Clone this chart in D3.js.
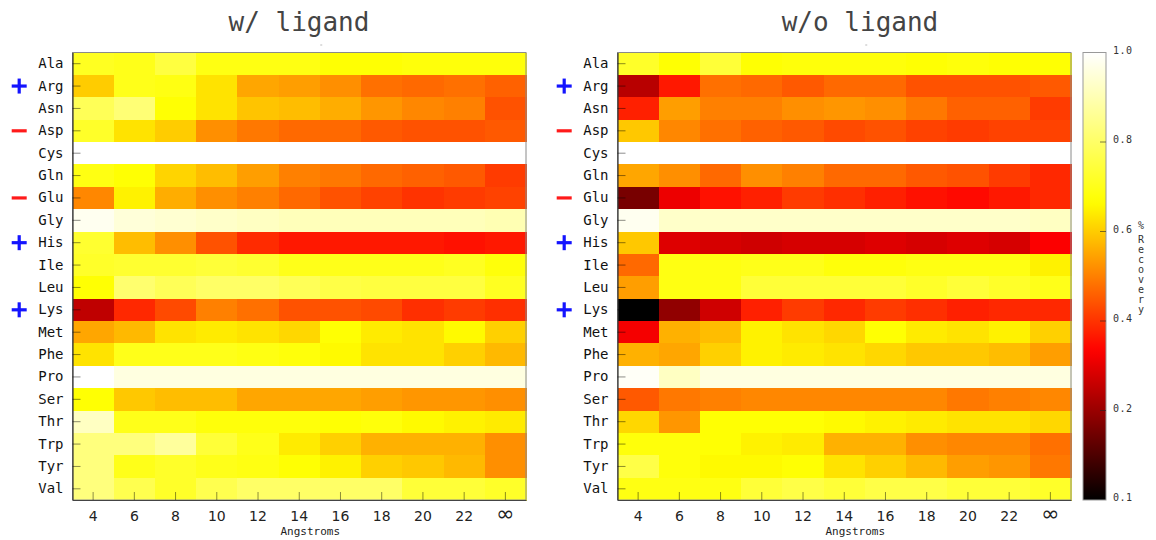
<!DOCTYPE html>
<html>
<head>
<meta charset="utf-8">
<script src="https://cdn.jsdelivr.net/npm/d3@7/dist/d3.min.js"></script>
<style>
  html, body { margin: 0; padding: 0; background: #fff; }
  svg { display: block; }
</style>
</head>
<body>
<svg id="chart" width="1156" height="540"></svg>
<script>
// Residue types (rows) and probe distances in Å (columns)
const residues = ["Ala","Arg","Asn","Asp","Cys","Gln","Glu","Gly","His","Ile",
                  "Leu","Lys","Met","Phe","Pro","Ser","Thr","Trp","Tyr","Val"];
const distances = ["4","6","8","10","12","14","16","18","20","22","∞"];

// Charged residues, marked beside the row labels
const positiveResidues = ["Arg","His","Lys"];
const negativeResidues = ["Asp","Glu"];

// Fraction recovered, with the ligand present
const withLigand = [
  [0.71,0.70,0.75,0.69,0.69,0.69,0.67,0.67,0.68,0.68,0.68],
  [0.60,0.70,0.69,0.63,0.55,0.54,0.52,0.48,0.47,0.48,0.46],
  [0.78,0.82,0.67,0.63,0.59,0.58,0.56,0.53,0.51,0.50,0.44],
  [0.72,0.63,0.60,0.52,0.49,0.47,0.47,0.45,0.44,0.44,0.45],
  [1.00,1.00,1.00,1.00,1.00,1.00,1.00,1.00,1.00,1.00,1.00],
  [0.69,0.67,0.61,0.58,0.54,0.50,0.49,0.47,0.46,0.45,0.41],
  [0.51,0.65,0.56,0.52,0.50,0.47,0.44,0.42,0.40,0.41,0.42],
  [0.98,0.95,0.94,0.93,0.92,0.91,0.91,0.91,0.91,0.91,0.90],
  [0.73,0.58,0.52,0.44,0.39,0.365,0.365,0.365,0.365,0.355,0.365],
  [0.72,0.73,0.73,0.74,0.73,0.70,0.70,0.70,0.70,0.71,0.68],
  [0.67,0.81,0.78,0.80,0.80,0.78,0.76,0.75,0.75,0.75,0.71],
  [0.25,0.385,0.43,0.50,0.48,0.44,0.44,0.43,0.395,0.41,0.395],
  [0.55,0.575,0.63,0.64,0.63,0.615,0.67,0.64,0.63,0.66,0.605],
  [0.63,0.70,0.70,0.70,0.69,0.68,0.66,0.63,0.63,0.605,0.575],
  [1.00,0.96,0.96,0.96,0.96,0.96,0.96,0.96,0.96,0.96,0.96],
  [0.67,0.595,0.58,0.58,0.55,0.55,0.55,0.54,0.53,0.53,0.52],
  [0.92,0.70,0.70,0.68,0.68,0.68,0.67,0.68,0.66,0.65,0.64],
  [0.83,0.83,0.87,0.74,0.70,0.64,0.605,0.565,0.565,0.565,0.52],
  [0.83,0.70,0.72,0.70,0.69,0.67,0.65,0.605,0.595,0.575,0.52],
  [0.83,0.77,0.72,0.77,0.80,0.80,0.80,0.80,0.74,0.74,0.72]
];

// Fraction recovered, without the ligand
const withoutLigand = [
  [0.72,0.67,0.74,0.67,0.68,0.68,0.68,0.67,0.68,0.67,0.67],
  [0.24,0.365,0.48,0.47,0.45,0.47,0.47,0.44,0.44,0.44,0.45],
  [0.375,0.54,0.50,0.50,0.52,0.53,0.52,0.49,0.46,0.46,0.41],
  [0.595,0.51,0.48,0.46,0.45,0.43,0.44,0.42,0.41,0.42,0.42],
  [1.00,1.00,1.00,1.00,1.00,1.00,1.00,1.00,1.00,1.00,1.00],
  [0.55,0.52,0.47,0.52,0.50,0.47,0.47,0.45,0.44,0.41,0.385],
  [0.157,0.31,0.355,0.375,0.41,0.395,0.375,0.355,0.345,0.365,0.385],
  [0.98,0.93,0.93,0.93,0.93,0.93,0.93,0.93,0.93,0.93,0.92],
  [0.595,0.29,0.28,0.27,0.28,0.28,0.29,0.28,0.29,0.28,0.33],
  [0.47,0.69,0.69,0.70,0.70,0.68,0.68,0.69,0.69,0.69,0.65],
  [0.54,0.69,0.69,0.74,0.74,0.74,0.74,0.72,0.74,0.72,0.70],
  [0.0,0.19,0.27,0.375,0.41,0.385,0.41,0.395,0.375,0.385,0.385],
  [0.32,0.565,0.58,0.65,0.63,0.615,0.67,0.64,0.63,0.65,0.605],
  [0.565,0.55,0.605,0.65,0.64,0.63,0.615,0.595,0.595,0.58,0.54],
  [0.99,0.92,0.96,0.96,0.96,0.96,0.96,0.96,0.96,0.96,0.96],
  [0.45,0.49,0.50,0.51,0.51,0.51,0.51,0.51,0.49,0.50,0.51],
  [0.615,0.53,0.67,0.67,0.67,0.66,0.65,0.64,0.63,0.63,0.615],
  [0.68,0.68,0.67,0.65,0.64,0.565,0.565,0.52,0.51,0.51,0.48],
  [0.76,0.68,0.66,0.66,0.67,0.63,0.605,0.575,0.54,0.53,0.49],
  [0.69,0.69,0.69,0.74,0.76,0.74,0.76,0.76,0.74,0.74,0.72]
];

const panelTitles = ["w/ ligand", "w/o ligand"];

// Colour bar ticks and their printed labels
const cbTickValues = [0, 0.2, 0.4, 0.6, 0.8, 1.0];
const cbTickLabels = ["0.1", "0.2", "0.4", "0.6", "0.8", "1.0"];
const cbTitle = ["%", "R", "e", "c", "o", "v", "e", "r", "y"];

// "hot" palette: black -> red -> yellow -> white
function hot(t) {
  const c = v => Math.round(255 * Math.max(0, Math.min(1, v)));
  return `rgb(${c(3 * t)},${c(3 * t - 1)},${c(3 * t - 2)})`;
}
const color = d3.scaleSequential(hot).domain([0, 1]);

const svg = d3.select("#chart");
const plotW = 453.5, plotH = 447.5, plotTop = 52.5;
const panels = [
  { left: 72.5,  data: withLigand,    title: panelTitles[0], titleX: 299 },
  { left: 617.5, data: withoutLigand, title: panelTitles[1], titleX: 860 }
];

const x = d3.scaleBand().domain(distances).range([0, plotW]);
const y = d3.scaleBand().domain(residues).range([0, plotH]);

panels.forEach(p => {
  const g = svg.append("g").attr("transform", `translate(${p.left},${plotTop})`);

  // title
  svg.append("text")
    .attr("x", p.titleX).attr("y", 31)
    .attr("text-anchor", "middle")
    .style("font-family", "'DejaVu Sans Mono', monospace")
    .style("font-size", "26px")
    .style("fill", "#444")
    .text(p.title);
  svg.append("line")
    .attr("x1", p.left + plotW / 2 + 21).attr("x2", p.left + plotW / 2 + 23)
    .attr("y1", 45).attr("y2", 45)
    .attr("stroke", "#bbb").attr("stroke-width", 1);

  // cells
  const cells = [];
  p.data.forEach((row, i) => row.forEach((v, j) => cells.push({ r: residues[i], d: distances[j], v })));
  g.append("g").selectAll("rect").data(cells).join("rect")
    .attr("x", d => x(d.d))
    .attr("y", d => y(d.r))
    .attr("width", x.bandwidth() + 0.6)
    .attr("height", y.bandwidth() + 0.6)
    .attr("fill", d => color(d.v))
    .attr("shape-rendering", "crispEdges");

  // frame
  g.append("rect")
    .attr("x", 0).attr("y", 0).attr("width", plotW).attr("height", plotH)
    .attr("fill", "none").attr("stroke", "#8a8a8a").attr("stroke-width", 1);

  // y axis (ticks point into the plot)
  const ya = g.append("g").call(d3.axisLeft(y).tickSizeInner(-8).tickSizeOuter(0).tickPadding(9));
  ya.select(".domain").attr("stroke", "#333").attr("stroke-width", 1.2);
  ya.selectAll(".tick line").attr("stroke", "#000").attr("stroke-opacity", 0.45);
  ya.selectAll(".tick text")
    .style("font-family", "'DejaVu Sans Mono', monospace")
    .style("font-size", "14px").style("fill", "#111");

  // x axis
  const xa = g.append("g").attr("transform", `translate(0,${plotH})`)
    .call(d3.axisBottom(x).tickSizeInner(-8).tickSizeOuter(0).tickPadding(11));
  xa.select(".domain").attr("stroke", "#444").attr("stroke-width", 1.2);
  xa.selectAll(".tick line").attr("stroke", "#000").attr("stroke-opacity", 0.45);
  xa.selectAll(".tick text")
    .style("font-family", "'DejaVu Sans', sans-serif")
    .style("font-size", d => d === "∞" ? "22px" : "14px")
    .attr("dy", d => d === "∞" ? "0.45em" : "0.71em")
    .style("fill", "#222");

  g.append("text")
    .attr("x", plotW / 2 + 11).attr("y", plotH + 35)
    .attr("text-anchor", "middle")
    .style("font-family", "'DejaVu Sans Mono', monospace")
    .style("font-size", "11px").style("fill", "#222")
    .text("Angstroms");

  // charge markers
  const mx = -53.3, half = 7.5;
  positiveResidues.forEach(r => {
    const cy = y(r) + y.bandwidth() / 2;
    g.append("line").attr("x1", mx - half).attr("x2", mx + half).attr("y1", cy).attr("y2", cy)
      .attr("stroke", "#1414ff").attr("stroke-width", 3.2);
    g.append("line").attr("x1", mx).attr("x2", mx).attr("y1", cy - half).attr("y2", cy + half)
      .attr("stroke", "#1414ff").attr("stroke-width", 3.2);
  });
  negativeResidues.forEach(r => {
    const cy = y(r) + y.bandwidth() / 2;
    g.append("line").attr("x1", mx - half).attr("x2", mx + half).attr("y1", cy).attr("y2", cy)
      .attr("stroke", "#ff1a1a").attr("stroke-width", 3.2);
  });
});

// colour bar
const cbX = 1083, cbW = 23;
const cb = svg.append("g").attr("transform", `translate(${cbX},${plotTop})`);
const cbScale = d3.scaleLinear().domain([0, 1]).range([plotH, 0]);
const defs = svg.append("defs");
const grad = defs.append("linearGradient").attr("id", "cbGrad")
  .attr("x1", 0).attr("y1", 1).attr("x2", 0).attr("y2", 0);
d3.range(0, 1.0001, 0.02).forEach(t => {
  grad.append("stop").attr("offset", t).attr("stop-color", color(t));
});
cb.append("rect").attr("width", cbW).attr("height", plotH)
  .attr("fill", "url(#cbGrad)").attr("stroke", "#999").attr("stroke-width", 1);

cb.selectAll(".cbtick").data(cbTickValues.filter(v => v > 0 && v < 1)).join("line")
  .attr("x1", cbW - 6).attr("x2", cbW)
  .attr("y1", d => cbScale(d)).attr("y2", d => cbScale(d))
  .attr("stroke", "#222").attr("stroke-opacity", 0.6);

cb.selectAll(".cblabel").data(cbTickValues).join("text")
  .attr("x", cbW + 7)
  .attr("y", d => cbScale(d))
  .attr("dy", "0.1em")
  .style("font-family", "'DejaVu Sans Mono', monospace")
  .style("font-size", "10px").style("fill", "#333")
  .style("letter-spacing", "0.5px")
  .text((d, i) => cbTickLabels[i]);

// vertical stacked colour bar title
const titleY = d3.scaleLinear().domain([1, cbTitle.length - 1]).range([243, 313]);
svg.selectAll(".cbtitle").data(cbTitle).join("text")
  .attr("x", 1141)
  .attr("y", (d, i) => i === 0 ? 229 : titleY(i))
  .attr("text-anchor", "middle")
  .style("font-family", "'DejaVu Sans Mono', monospace")
  .style("font-size", "10px").style("fill", "#333")
  .text(d => d);
</script>
</body>
</html>
